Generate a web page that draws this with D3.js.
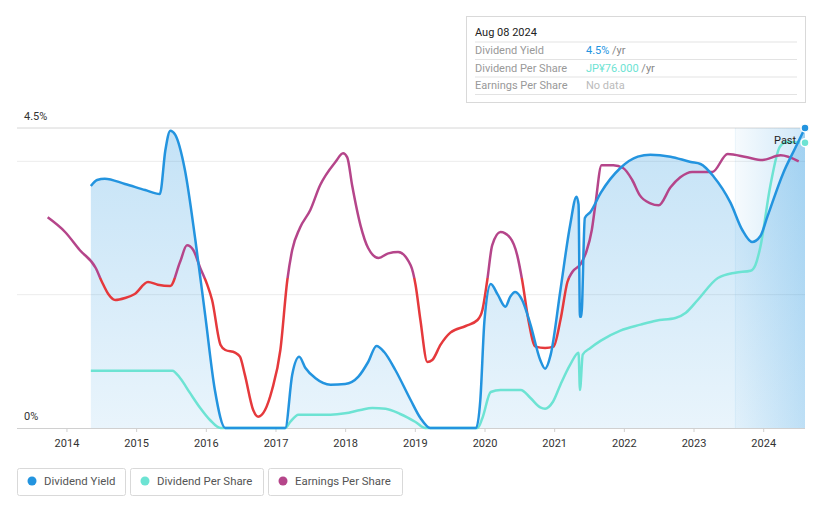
<!DOCTYPE html>
<html><head><meta charset="utf-8">
<script src="https://cdn.jsdelivr.net/npm/d3@7"></script>
<style>
body{margin:0;background:#fff;font-family:Roboto,"Noto Sans",sans-serif;}
svg{display:block}
</style></head>
<body>
<svg id="c" width="821" height="508"></svg>
<script>
// ---- data ----
const yearTicks = [2014,2015,2016,2017,2018,2019,2020,2021,2022,2023,2024];
const yieldTickLabels = ["0%","4.5%"];
const yieldDates = [2014.35,2014.44,2014.55,2014.84,2015.13,2015.34,2015.42,2015.49,2015.56,2015.70,2015.85,2015.99,2016.13,2016.28,2017.14,2017.24,2017.34,2017.43,2017.57,2017.79,2018.00,2018.19,2018.33,2018.45,2018.56,2018.72,2018.94,2019.08,2019.22,2019.88,2019.94,2020.00,2020.09,2020.19,2020.30,2020.37,2020.44,2020.54,2020.66,2020.80,2020.87,2020.95,2021.09,2021.23,2021.32,2021.35,2021.37,2021.39,2021.44,2021.52,2021.67,2021.95,2022.20,2022.38,2022.67,2022.96,2023.10,2023.29,2023.53,2023.70,2023.84,2023.96,2024.06,2024.29,2024.46,2024.60];
const yieldValues = [3.63,3.72,3.74,3.66,3.57,3.51,4.17,4.46,4.40,3.87,2.82,1.70,0.57,0,0,0.80,1.07,0.90,0.75,0.65,0.66,0.77,0.99,1.23,1.14,0.87,0.42,0.15,0,0,0.42,1.62,2.16,2.00,1.82,1.97,2.04,1.92,1.55,1.02,0.89,1.10,2.07,3.05,3.47,3.35,1.67,1.67,3.15,3.24,3.53,3.90,4.07,4.10,4.07,3.99,3.96,3.77,3.38,2.97,2.79,2.88,3.17,3.83,4.20,4.50];
// dividend per share, plotted on the yield scale (as in the reference)
const dpsDates = [2014.35,2015.52,2015.63,2015.77,2015.92,2016.06,2016.21,2017.14,2017.21,2017.33,2017.79,2018.00,2018.22,2018.39,2018.58,2018.79,2019.01,2019.15,2019.90,2019.97,2020.09,2020.23,2020.52,2020.66,2020.80,2020.87,2020.98,2021.09,2021.23,2021.35,2021.37,2021.41,2021.52,2021.67,2021.95,2022.24,2022.46,2022.74,2022.89,2023.06,2023.35,2023.60,2023.82,2023.89,2023.96,2024.10,2024.24,2024.34,2024.60];
const dpsValues = [0.86,0.86,0.75,0.53,0.30,0.12,0,0,0.09,0.20,0.20,0.22,0.27,0.30,0.29,0.21,0.09,0,0,0.15,0.54,0.57,0.57,0.45,0.31,0.29,0.39,0.65,0.95,1.13,0.57,1.10,1.20,1.31,1.46,1.55,1.61,1.65,1.73,1.92,2.25,2.33,2.36,2.45,2.72,3.62,4.22,4.29,4.28];
const epsDates = [2013.73,2013.98,2014.19,2014.42,2014.51,2014.60,2014.70,2014.84,2014.98,2015.17,2015.31,2015.49,2015.63,2015.73,2015.82,2015.92,2016.02,2016.09,2016.21,2016.28,2016.42,2016.49,2016.56,2016.68,2016.75,2016.85,2016.95,2017.07,2017.17,2017.24,2017.35,2017.50,2017.64,2017.86,2017.97,2018.03,2018.10,2018.22,2018.33,2018.48,2018.62,2018.76,2018.94,2019.01,2019.08,2019.18,2019.25,2019.37,2019.51,2019.73,2019.90,2019.97,2020.04,2020.11,2020.23,2020.37,2020.47,2020.54,2020.63,2020.73,2020.87,2020.99,2021.09,2021.19,2021.26,2021.38,2021.46,2021.54,2021.59,2021.68,2021.85,2021.99,2022.12,2022.23,2022.38,2022.50,2022.67,2022.81,2022.98,2023.27,2023.49,2023.77,2023.99,2024.25,2024.51];
const epsValues = [91,69,42,15,-6,-24,-33,-30,-24,-6,-10,-12,24,49,42,15,-10,-33,-100,-108,-112,-118,-145,-198,-208,-198,-168,-108,-3,42,75,102,139,174,187,181,139,79,45,30,37,39,19,-10,-63,-126,-123,-100,-82,-72,-63,-48,-3,49,69,60,34,-3,-63,-103,-105,-103,-63,-6,9,21,39,72,109,169,169,165,147,124,112,109,136,151,159,159,186,181,177,184,175];
const legendLabels = ["Dividend Yield","Dividend Per Share","Earnings Per Share"];
const tooltipRows = [["Dividend Yield","4.5%"," /yr"],["Dividend Per Share","JP¥76.000"," /yr"],["Earnings Per Share","No data",""]];

// ---- chart ----
const C = {blue:"#2394df", teal:"#6de3d3", purple:"#b5458a", red:"#e5393c"};
const svg = d3.select("#c");
const x = d3.scaleLinear().domain([2013.29, 2024.6]).range([17, 805]);
const y = d3.scaleLinear().domain([0, 4.5]).range([428, 128]);
const yE = d3.scaleLinear().domain([-225, 225]).range([428, 128]);
const defs = svg.append("defs");

const ag = defs.append("linearGradient").attr("id","areaG").attr("x1",0).attr("y1",0).attr("x2",0).attr("y2",1);
ag.append("stop").attr("offset","0%").attr("stop-color","#2394df").attr("stop-opacity",0.27);
ag.append("stop").attr("offset","100%").attr("stop-color","#2394df").attr("stop-opacity",0.1);
const pg = defs.append("linearGradient").attr("id","pastG").attr("x1",0).attr("y1",0).attr("x2",1).attr("y2",0);
pg.append("stop").attr("offset","0%").attr("stop-color","#2394df").attr("stop-opacity",0.04);
pg.append("stop").attr("offset","100%").attr("stop-color","#2394df").attr("stop-opacity",0.22);
const eg = defs.append("linearGradient").attr("id","epsG").attr("gradientUnits","userSpaceOnUse")
  .attr("x1",0).attr("y1",yE(225)).attr("x2",0).attr("y2",yE(-225));
const t = (yE(0)-yE(225))/(yE(-225)-yE(225));
eg.append("stop").attr("offset",t).attr("stop-color",C.purple);
eg.append("stop").attr("offset",t).attr("stop-color",C.red);

// gridlines
svg.append("g").selectAll("line").data([2,4]).join("line")
  .attr("x1",17).attr("x2",805).attr("y1",d=>y(d)).attr("y2",d=>y(d)).attr("stroke","#ececec");
svg.append("line").attr("x1",17).attr("x2",805).attr("y1",y(4.5)).attr("y2",y(4.5)).attr("stroke","#d6d6d6");

// past region
svg.append("rect").attr("x",x(2023.6)).attr("y",y(4.5)).attr("width",x(2024.6)-x(2023.6)).attr("height",y(0)-y(4.5)).attr("fill","url(#pastG)");
svg.append("line").attr("x1",x(2023.6)).attr("x2",x(2023.6)).attr("y1",y(4.5)).attr("y2",y(0)).attr("stroke","#2394df").attr("stroke-opacity",0.08);

const yd = yieldDates.map((d,i)=>({d, v:yieldValues[i]}));
const dd = dpsDates.map((d,i)=>({d, v:dpsValues[i]}));
const ed = epsDates.map((d,i)=>({d, v:epsValues[i]}));
const curve = d3.curveMonotoneX;
svg.append("path").datum(yd).attr("fill","url(#areaG)")
  .attr("d", d3.area().x(p=>x(p.d)).y0(y(0)).y1(p=>y(p.v)).curve(curve));

// axis
const ax = svg.append("g").attr("transform","translate(0,428)")
  .call(d3.axisBottom(x).tickValues(yearTicks).tickFormat(d3.format("d")).tickSize(4).tickPadding(7));
ax.select(".domain").attr("stroke","#d0d0d0").attr("d","M17,0.5H805");
ax.selectAll(".tick line").attr("stroke","#d0d0d0");
ax.selectAll(".tick text").attr("fill","#333").attr("font-size","11px").attr("font-family","Roboto,sans-serif");

// y labels
svg.append("g").selectAll("text").data([0,4.5]).join("text")
  .attr("x",24).attr("y",d=>y(d)-8).text((d,i)=>yieldTickLabels[i])
  .attr("font-size","11px").attr("fill","#333");

const line = (sc)=>d3.line().x(p=>x(p.d)).y(p=>sc(p.v)).curve(curve);
svg.append("path").datum(dd).attr("fill","none").attr("stroke",C.teal).attr("stroke-width",2.5).attr("d",line(y));
svg.append("path").datum(ed).attr("fill","none").attr("stroke","url(#epsG)").attr("stroke-width",2.5).attr("d",line(yE));
svg.append("path").datum(yd).attr("fill","none").attr("stroke",C.blue).attr("stroke-width",2.5).attr("d",line(y));

svg.append("text").attr("x",774).attr("y",144).text("Past").attr("font-size","11px").attr("fill","#222");
svg.append("circle").attr("cx",x(2024.6)).attr("cy",y(dpsValues[dpsValues.length-1])).attr("r",4).attr("fill",C.teal).attr("stroke","#fff").attr("stroke-width",1.5);
svg.append("circle").attr("cx",x(2024.6)).attr("cy",y(yieldValues[yieldValues.length-1])).attr("r",4).attr("fill",C.blue).attr("stroke","#fff").attr("stroke-width",1.5);

// tooltip
const tt = svg.append("g");
tt.append("rect").attr("x",466.5).attr("y",16.5).attr("width",339).attr("height",86).attr("fill","#fff").attr("stroke","#d9d9d9");
tt.append("text").attr("x",475).attr("y",36).text("Aug 08 2024").attr("font-size","11px").attr("fill","#222");
const rowY = [54,71.5,89];
[42,59.5,77,94.5].forEach(v=>tt.append("line").attr("x1",475).attr("x2",797).attr("y1",v).attr("y2",v).attr("stroke","#e3e3e3"));
const valCol = [C.blue, C.teal, "#bbb"];
tooltipRows.forEach((r,i)=>{
  tt.append("text").attr("x",475).attr("y",rowY[i]).text(r[0]).attr("font-size","11px").attr("fill","#999");
  const tx = tt.append("text").attr("x",586).attr("y",rowY[i]).attr("font-size","11px");
  tx.append("tspan").text(r[1]).attr("fill",valCol[i]);
  tx.append("tspan").text(r[2]).attr("fill","#888");
});

// legend
const lg = svg.append("g");
const boxes = [[17,108],[130,133],[268,134]];
const lcol = [C.blue, C.teal, C.purple];
legendLabels.forEach((l,i)=>{
  const [bx,bw] = boxes[i];
  lg.append("rect").attr("x",bx+0.5).attr("y",468.5).attr("width",bw).attr("height",27).attr("rx",2).attr("fill","#fff").attr("stroke","#d9d9d9");
  lg.append("circle").attr("cx",bx+15).attr("cy",481).attr("r",4.5).attr("fill",lcol[i]);
  lg.append("text").attr("x",bx+27).attr("y",485).text(l).attr("font-size","11.4px").attr("fill","#555");
});
</script>
</body></html>
